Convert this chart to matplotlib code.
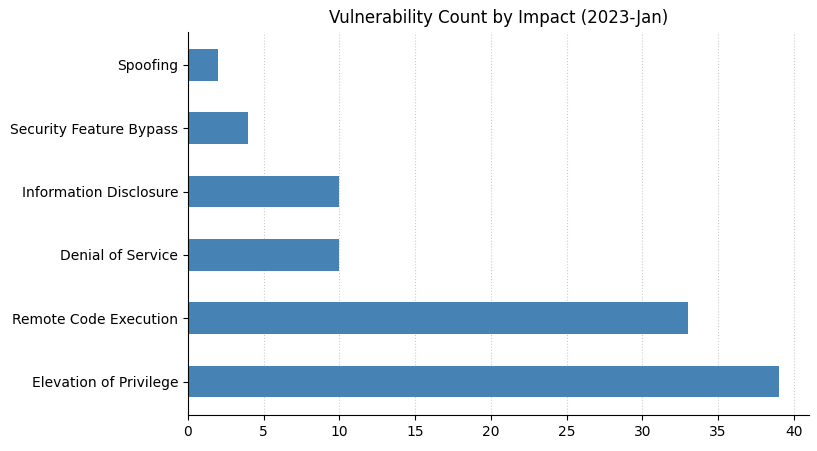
import matplotlib
matplotlib.use("Agg")
import matplotlib.pyplot as plt

categories = ["Elevation of Privilege", "Remote Code Execution", "Denial of Service",
              "Information Disclosure", "Security Feature Bypass", "Spoofing"]
counts = [39, 33, 10, 10, 4, 2]

fig, ax = plt.subplots(figsize=(8.17, 4.51), dpi=100)
ax.barh(categories, counts, height=0.5, color="steelblue")
ax.set_title("Vulnerability Count by Impact (2023-Jan)")
ax.set_xticks(range(0, 45, 5))
ax.grid(axis="x", linestyle=":", color="#cccccc")
ax.set_axisbelow(True)
ax.spines["top"].set_visible(False)
ax.spines["right"].set_visible(False)
ax.set_xlim(0, 41)
plt.subplots_adjust(left=0.23, right=0.99, top=0.93, bottom=0.08)
fig.savefig("out.png")
